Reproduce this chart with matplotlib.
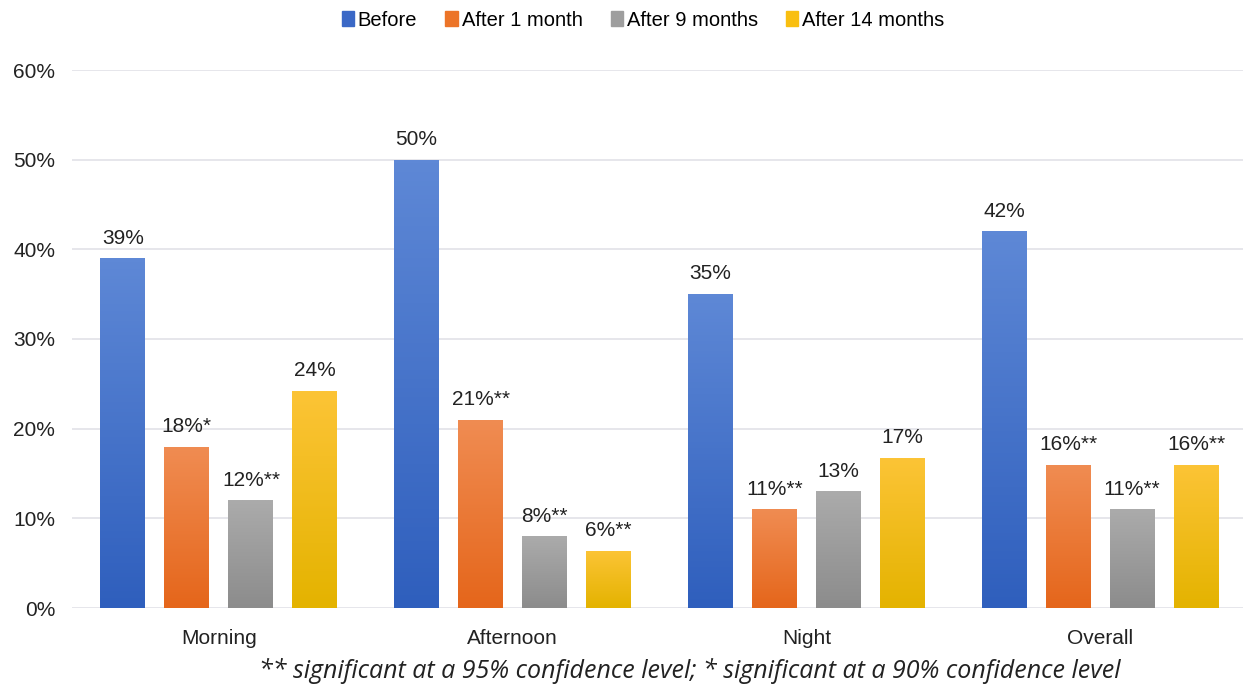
import matplotlib.pyplot as plt
import numpy as np
from matplotlib.colors import LinearSegmentedColormap
from matplotlib import font_manager

categories = ['Morning', 'Afternoon', 'Night', 'Overall']
series = ['Before', 'After 1 month', 'After 9 months', 'After 14 months']
before = [39, 50, 35, 42]
after_1 = [18, 21, 11, 16]
after_9 = [12, 8, 13, 11]
after_14 = [24.2, 6.4, 16.7, 16]
labels_before = ['39%', '50%', '35%', '42%']
labels_1 = ['18%*', '21%**', '11%**', '16%**']
labels_9 = ['12%**', '8%**', '13%', '11%**']
labels_14 = ['24%', '6%**', '17%', '16%**']

values = [before, after_1, after_9, after_14]
labels = [labels_before, labels_1, labels_9, labels_14]
# top / bottom gradient colours per series
grads = [('#5e88d6', '#2f5fbd'), ('#f08c52', '#e5661b'),
         ('#ababab', '#8c8c8c'), ('#fcc436', '#e4b300')]
legend_colors = ['#3a68c6', '#ec7428', '#9e9e9e', '#f9bf10']

names = {f.name for f in font_manager.fontManager.ttflist}
font = 'Liberation Sans Narrow' if 'Liberation Sans Narrow' in names else 'Liberation Sans'
plt.rcParams['font.family'] = font

fig = plt.figure(figsize=(12.43, 6.92), dpi=100)
ax = fig.add_axes([72 / 1243, 1 - 608 / 692, 1175 / 1243, 538 / 692])

x = np.arange(len(categories))
step = 0.218
width = 0.153
for i, (vals, labs) in enumerate(zip(values, labels)):
    pos = x + (i - 1.5) * step
    bars = ax.bar(pos, vals, width, color=legend_colors[i], label=series[i], zorder=2)
    cmap = LinearSegmentedColormap.from_list('g', [grads[i][1], grads[i][0]])
    for b, lab in zip(bars, labs):
        x0, y0 = b.get_x(), b.get_y()
        w, h = b.get_width(), b.get_height()
        grad = np.linspace(0, 1, 100).reshape(-1, 1)
        im = ax.imshow(grad, extent=[x0, x0 + w, y0, y0 + h], origin='lower',
                       aspect='auto', cmap=cmap, zorder=3)
        im.set_clip_path(b)
        ax.text(x0 + w / 2, h + 1.2, lab, ha='center', va='bottom',
                fontsize=15, color='#222222')

ax.set_xlim(-0.5, 3.5)
ax.set_ylim(0, 60)
ax.set_yticks(np.arange(0, 61, 10))
ax.set_yticklabels([f'{v}%' for v in range(0, 61, 10)])
ax.set_xticks(x)
ax.set_xticklabels(categories)
ax.tick_params(axis='both', length=0, labelsize=15, colors='#222222')
ax.tick_params(axis='y', pad=12)
ax.tick_params(axis='x', pad=15)
ax.grid(axis='y', color='#e1e2e8', linewidth=1.2, zorder=0)
for s in ax.spines.values():
    s.set_visible(False)

handles = [plt.Rectangle((0, 0), 1, 1, color=c) for c in legend_colors]
fig.legend(handles, series, loc='center', bbox_to_anchor=(643 / 1243, 1 - 20 / 692),
           ncol=4, frameon=False, fontsize=14.5, handlelength=0.6, handleheight=0.8,
           handletextpad=0.2, columnspacing=1.4)

fig.text(690 / 1243, 1 - 671 / 692,
         '** significant at a 95% confidence level; * significant at a 90% confidence level',
         ha='center', va='center', fontsize=18, style='italic',
         family=['Open Sans', 'DejaVu Sans'], color='#222222')

fig.savefig('out.png', dpi=100)
